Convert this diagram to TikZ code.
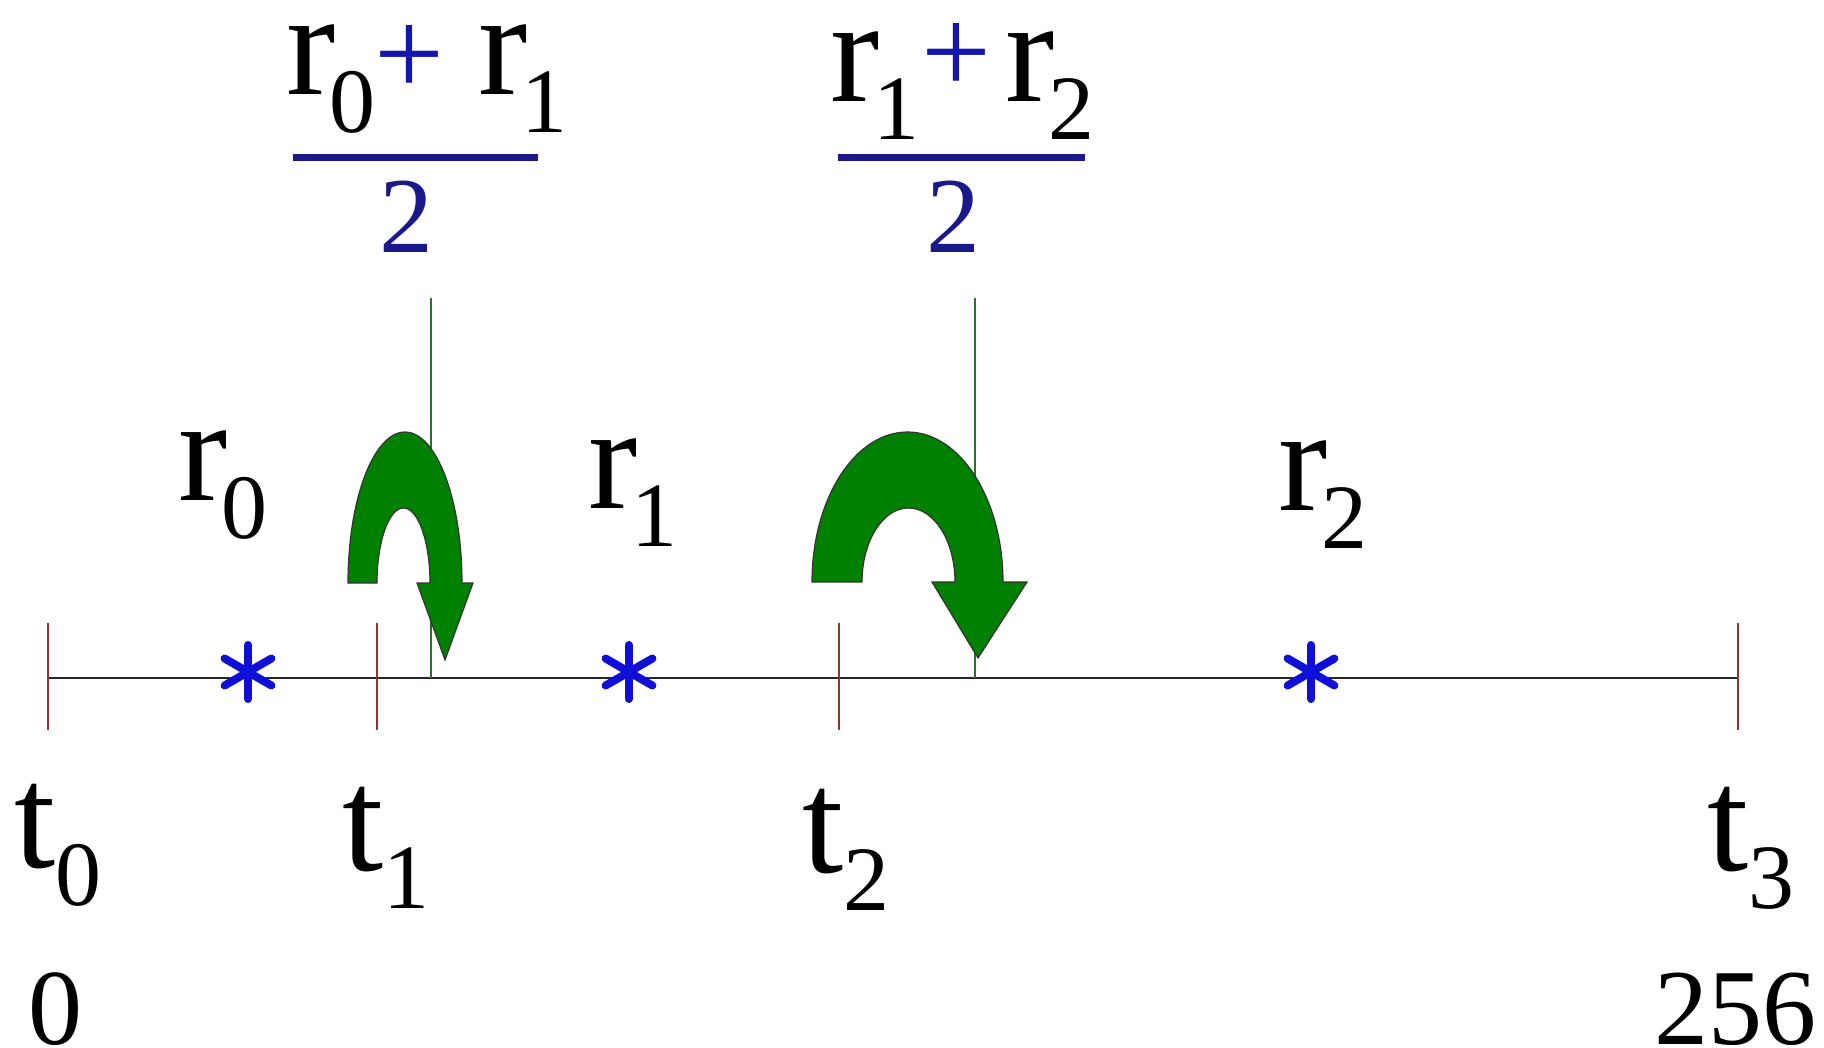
\documentclass[tikz,border=0pt]{standalone}
\usepackage{fontspec}
\setmainfont{Liberation Serif}
\usetikzlibrary{positioning}
\definecolor{navy}{RGB}{25,25,140}
\definecolor{plusblue}{RGB}{20,20,175}
\definecolor{starblue}{RGB}{15,15,215}
\definecolor{arrowgreen}{RGB}{0,128,0}
\definecolor{guidegreen}{RGB}{40,115,40}
\definecolor{tickred}{RGB}{150,50,50}
\newcommand{\lsub}[1]{\raisebox{-19pt}{\fontsize{46}{46}\selectfont #1}}

\begin{document}
\begin{tikzpicture}[x=0.5pt,y=-0.5pt,
  lbl/.style={inner sep=0pt,anchor=base west,font=\fontsize{74}{74}\selectfont},
  num/.style={inner sep=0pt,anchor=base,font=\fontsize{54}{54}\selectfont},
  plus/.style={inner sep=0pt,text=plusblue,font=\fontsize{62}{62}\selectfont},
  fracbar/.style={navy,line width=3.5pt},
  axis/.style={black!85,line width=1.4pt},
  tick/.style={tickred,line width=1pt},
  guide/.style={guidegreen,line width=1pt},
  uturn/.style={fill=arrowgreen,draw=black!80,line width=0.6pt},
  spoke/.style={starblue,line width=4pt,line cap=round}
]
\useasboundingbox (0,0) rectangle (1824,1048);
% axis with ticks
\coordinate (a0) at (48,678);
\coordinate (a3) at (1738,678);
\draw[axis] (a0) -- (a3);
\foreach \x/\n in {48/0,377/1,839/2,1738/3}
  \draw[tick] (\x,623) coordinate (tk\n) -- (\x,730);
% guide lines
\coordinate (g1) at (431,298);
\coordinate (g1b) at (431,678);
\coordinate (g2) at (975,298);
\coordinate (g2b) at (975,678);
\draw[guide] (g1) -- (g1b);
\draw[guide] (g2) -- (g2b);
% u-turn arrows
\path[uturn] (348,583) arc[start angle=180,end angle=360,x radius=57,y radius=151]
  -- (473,583) -- (445,660) -- (417,583) -- (430,583)
  arc[start angle=0,end angle=-180,x radius=26.5,y radius=75] -- cycle;
\path[uturn] (812,582) arc[start angle=180,end angle=360,x radius=95.5,y radius=150]
  -- (1027,582) -- (978,658) -- (932,582) -- (955,582)
  arc[start angle=0,end angle=-180,x radius=46.5,y radius=74] -- cycle;
% asterisks
\foreach \x in {248,629,1311}{
  \foreach \a in {90,30,150}
    \draw[spoke] (\x,672) ++(\a:-27) -- ++(\a:54);
}
% region labels
\node[lbl] (r0) at (178,500) {r\kern-3pt\lsub{0}};
\node[lbl] (r1) at (588,508) {r\kern-3pt\lsub{1}};
\node[lbl] (r2) at (1278,510) {r\kern-3pt\lsub{2}};
% tick labels
\node[lbl] (t0) at (14,867) {t\lsub{0}};
\node[lbl] (t1) at (342,870) {t\lsub{1}};
\node[lbl] (t2) at (802,872) {t\lsub{2}};
\node[lbl] (t3) at (1707,870) {t\lsub{3}};
\node[num,anchor=base west] (v0) at (28,1044) {0};
\node[num,anchor=base east] (v256) at (1817,1044) {256};
% midpoints
\node[lbl] (f1a) at (286,95) {r\kern-3pt\lsub{0}};
\node[plus] (f1p) at (409,60) {+};
\node[lbl] (f1b) at (478,95) {r\kern-3pt\lsub{1}};
\draw[fracbar] (293,158) coordinate (f1l) -- (538,158) coordinate (f1r);
\node[num,text=navy] (f1d) at (406,252) {2};
\node[lbl] (f2a) at (830,102) {r\kern-3pt\lsub{1}};
\node[plus] (f2p) at (956,58) {+};
\node[lbl] (f2b) at (1005,102) {r\kern-3pt\lsub{2}};
\draw[fracbar] (838,158) coordinate (f2l) -- (1085,158) coordinate (f2r);
\node[num,text=navy] (f2d) at (953,252) {2};
\end{tikzpicture}
\end{document}
